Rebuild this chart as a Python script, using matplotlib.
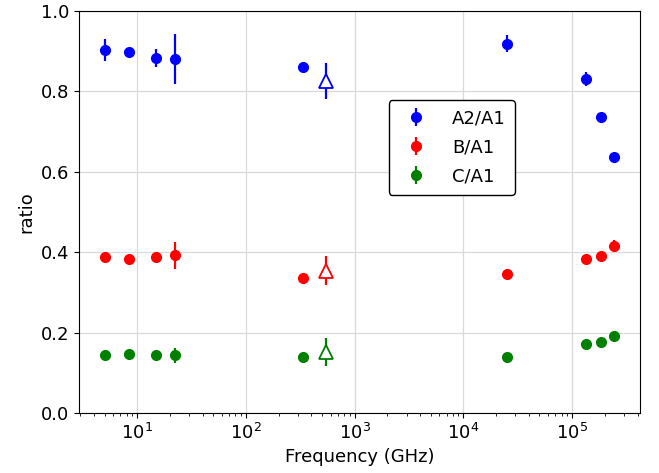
import matplotlib
matplotlib.use('Agg')
import matplotlib.pyplot as plt
import numpy as np

# measured points (filled circles)
freq = [5.0, 8.4, 15.0, 22.0, 336.0, 25400.0, 134000.0, 185000.0, 245000.0]
a2 = [0.903, 0.897, 0.883, 0.880, 0.861, 0.918, 0.831, 0.737, 0.637]
a2_err = [0.027, 0.004, 0.022, 0.062, 0.010, 0.021, 0.017, 0.004, 0.004]
b = [0.387, 0.384, 0.389, 0.392, 0.336, 0.346, 0.382, 0.390, 0.416]
b_err = [0.005, 0.004, 0.005, 0.033, 0.004, 0.005, 0.012, 0.006, 0.014]
c = [0.1435, 0.1476, 0.1435, 0.1435, 0.140, 0.138, 0.172, 0.177, 0.192]
c_err = [0.004, 0.004, 0.004, 0.019, 0.004, 0.005, 0.005, 0.005, 0.006]

# open triangle point
tri_freq = [550.0]
tri_a2, tri_a2_err = [0.826], [0.045]
tri_b, tri_b_err = [0.354], [0.037]
tri_c, tri_c_err = [0.152], [0.035]

plt.rcParams['font.size'] = 13

fig, ax = plt.subplots(figsize=(6.59, 4.73), dpi=100)
fig.subplots_adjust(left=0.12, right=0.971, top=0.977, bottom=0.127)

series = [(a2, a2_err, tri_a2, tri_a2_err, 'blue', 'A2/A1'),
          (b, b_err, tri_b, tri_b_err, 'red', 'B/A1'),
          (c, c_err, tri_c, tri_c_err, 'green', 'C/A1')]

for vals, errs, tv, te, col, lab in series:
    ax.errorbar(freq, vals, yerr=errs, fmt='o', color=col, ms=7,
                elinewidth=1.6, label=lab)
    ax.errorbar(tri_freq, tv, yerr=te, fmt='^', color=col, mfc='white',
                mec=col, ms=10, mew=1.3, elinewidth=1.6)

ax.set_xscale('log')
ax.set_ylim(0, 1.0)
ax.set_xlabel('Frequency (GHz)')
ax.set_ylabel('ratio')
ax.grid(True, color='#dadada', linewidth=0.9)
ax.set_axisbelow(True)

leg = ax.legend(loc='upper left', bbox_to_anchor=(0.536, 0.80),
                frameon=True, framealpha=1, edgecolor='black', fancybox=True,
                labelspacing=0.62, handletextpad=1.0, borderpad=0.5)

plt.savefig('out.png', dpi=100)
